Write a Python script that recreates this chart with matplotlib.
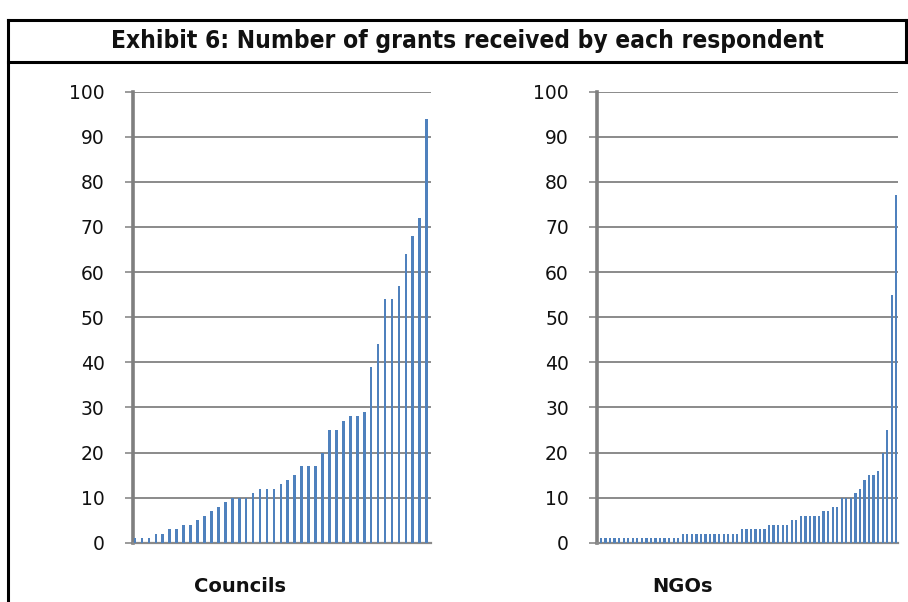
import matplotlib
matplotlib.use("Agg")
import matplotlib.pyplot as plt
from matplotlib.lines import Line2D

# Grants received per respondent, sorted ascending
councils = [1, 1, 1, 2, 2, 3, 3, 4, 4, 5, 6, 7, 8, 9, 10, 10, 10, 11, 12, 12,
            12, 13, 14, 15, 17, 17, 17, 20, 25, 25, 27, 28, 28, 29, 39, 44, 54,
            54, 57, 64, 68, 72, 94]
ngos = ([1] * 18 + [2] * 13 + [3] * 6 + [4] * 5 + [5] * 2 + [6] * 5 + [7] * 2 +
        [8] * 2 + [10] * 3 + [11, 12, 14, 15, 15, 16, 20, 25, 55, 77])

title = "Exhibit 6: Number of grants received by each respondent"
panel_labels = ["Councils", "NGOs"]
yticks = list(range(0, 101, 10))

W, H = 908, 602
fig = plt.figure(figsize=(W / 100, H / 100), dpi=100)
fig.patch.set_facecolor("white")

BAR = "#4F81BD"
GRID = "#8a8a8a"


def px_axes(x0, x1, ytop, ybot):
    return fig.add_axes([x0 / W, (H - ybot) / H, (x1 - x0) / W, (ybot - ytop) / H])


def style(ax, values, left_pad, right_pad, width):
    xs = list(range(len(values)))
    ax.bar(xs, values, width=width, color=BAR, linewidth=0, zorder=3)
    ax.set_xlim(-left_pad, len(values) - 1 + right_pad)
    ax.set_ylim(0, 100)
    ax.set_yticks(yticks)
    ax.set_xticks([])
    ax.yaxis.grid(True, color=GRID, linewidth=1.4, zorder=1)
    ax.set_axisbelow(True)
    for s in ("top", "right"):
        ax.spines[s].set_visible(False)
    ax.spines["left"].set_color("#7f7f7f")
    ax.spines["left"].set_linewidth(2.6)
    ax.spines["bottom"].set_color(GRID)
    ax.spines["bottom"].set_linewidth(1.6)
    ax.tick_params(axis="y", direction="out", length=5.5, width=1.2,
                   color=GRID, pad=15, labelsize=13.5, labelcolor="#111111")
    for t in ax.get_yticklabels():
        t.set_fontfamily("DejaVu Sans")


ax1 = px_axes(133, 431, 91.7, 542.7)
style(ax1, councils, 0.29, 0.62, 0.38)

ax2 = px_axes(597.3, 897.7, 91.7, 542.7)
style(ax2, ngos, 0.8, 0.3, 0.5)

# Framing lines around the exhibit
frame = dict(color="black", linewidth=2.2, transform=fig.transFigure)
def fx(x): return x / W
def fy(y): return (H - y) / H
fig.add_artist(Line2D([fx(8), fx(8)], [fy(20), fy(602)], **frame))
fig.add_artist(Line2D([fx(8), fx(906)], [fy(20), fy(20)], **frame))
fig.add_artist(Line2D([fx(8), fx(906)], [fy(62), fy(62)], **frame))
fig.add_artist(Line2D([fx(906), fx(906)], [fy(20), fy(62)], **frame))

fig.text(fx(467), fy(41), title, ha="center", va="center",
         fontsize=17.6, fontweight="bold", fontstretch="condensed",
         family="DejaVu Sans", color="#111111")
fig.text(fx(240), fy(586), panel_labels[0], ha="center", va="center",
         fontsize=14, fontweight="bold", family="DejaVu Sans", color="#111111")
fig.text(fx(683), fy(586), panel_labels[1], ha="center", va="center",
         fontsize=14, fontweight="bold", family="DejaVu Sans", color="#111111")

fig.savefig("out.png", dpi=100, facecolor="white")
